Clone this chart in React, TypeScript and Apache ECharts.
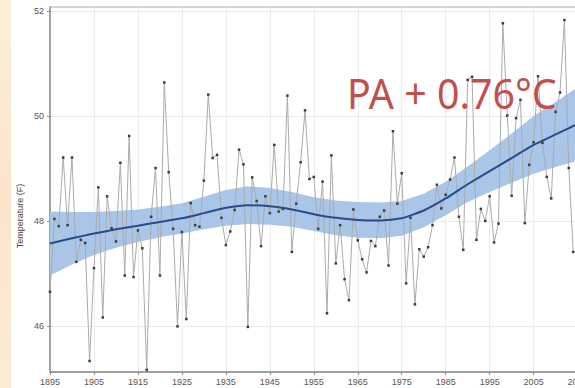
import { useEffect, useRef } from "react";
import * as echarts from "echarts";

const startYear = 1895;
const temps = [
  46.65, 48.04, 47.9, 49.21, 47.92, 49.21, 47.22, 47.64, 47.58, 45.33,
  47.1, 48.64, 46.16, 48.47, 47.86, 47.61, 49.11, 46.96, 49.62, 46.93,
  47.82, 47.48, 45.16, 48.08, 49.01, 46.96, 50.64, 48.93, 47.85, 45.99,
  47.79, 46.13, 48.34, 47.92, 47.89, 48.77, 50.41, 49.2, 49.26, 48.06,
  47.54, 47.8, 48.21, 49.36, 49.08, 45.98, 48.83, 48.38, 47.52, 48.47,
  48.15, 49.45, 48.18, 48.23, 50.39, 47.41, 48.33, 49.12, 50.11, 48.8,
  48.84, 47.85, 48.75, 46.24, 49.25, 47.19, 47.92, 46.89, 46.49, 48.22,
  47.63, 47.27, 47.02, 47.62, 47.52, 48.08, 48.2, 47.15, 49.71, 48.33,
  48.91, 46.81, 48.06, 46.41, 47.46, 47.32, 47.5, 47.92, 48.69, 48.24,
  48.5, 48.79, 49.21, 48.08, 47.45, 50.69, 50.75, 47.64, 48.23, 48.0,
  48.47, 47.59, 47.95, 51.77, 50.01, 48.48, 49.96, 50.31, 47.96, 49.07,
  49.5, 50.76, 49.49, 48.84, 48.43, 50.08, 50.45, 51.83, 49.01, 47.41,
];
const trendYears = [
  1895, 1900, 1905, 1910, 1915, 1920, 1925, 1930, 1935, 1940, 1945, 1950, 1955,
  1960, 1965, 1970, 1975, 1980, 1985, 1990, 1995, 2000, 2005, 2010, 2015,
];
const trendValues = [
  47.57, 47.67, 47.76, 47.84, 47.91, 47.98, 48.05, 48.15, 48.25, 48.3, 48.28,
  48.22, 48.13, 48.06, 48.02, 48.01, 48.05, 48.2, 48.43, 48.7, 48.95, 49.2,
  49.45, 49.65, 49.85,
];
const bandHalfWidth = [
  0.61, 0.5, 0.41, 0.35, 0.31, 0.29, 0.29, 0.31, 0.34, 0.36, 0.35, 0.33, 0.32,
  0.33, 0.34, 0.34, 0.33, 0.32, 0.32, 0.34, 0.4, 0.47, 0.55, 0.62, 0.7,
];
const yTickValues = [46, 48, 50, 52];
const annotation = "PA + 0.76°C";
const yTitle = "Temperature (F)";

export default function App() {
  const ref = useRef<HTMLDivElement>(null);
  useEffect(() => {
    if (!ref.current) return;
    const chart = echarts.init(ref.current, null, { renderer: "svg" });
    const obs = temps.map((v, i) => [startYear + i, v]);
    const band = trendYears.map((y, i) => [
      y,
      +(trendValues[i] - bandHalfWidth[i]).toFixed(3),
      +(trendValues[i] + bandHalfWidth[i]).toFixed(3),
    ]);
    const trend = trendYears.map((y, i) => [y, trendValues[i]]);
    const axisColor = "#8f8f8f";
    const labelStyle = { color: "#555", fontSize: 9, fontFamily: "Liberation Sans, Arial, sans-serif" };
    chart.setOption({
      animation: false,
      grid: {
        left: 50, top: 7, width: 527.6, height: 365,
        show: true, borderColor: "#a8a8a8", borderWidth: 1, backgroundColor: "transparent",
      },
      xAxis: {
        type: "value", min: 1895, max: 2015, interval: 10,
        axisLine: { show: true, lineStyle: { color: axisColor, width: 1.5 } },
        axisTick: { show: true, length: 3, lineStyle: { color: axisColor } },
        axisLabel: { ...labelStyle, margin: 5, formatter: (v: number) => String(v) },
        splitLine: { show: true, lineStyle: { color: "#ececec", width: 1 } },
      },
      yAxis: {
        type: "value", min: 45.12, max: 52.08, splitNumber: 4,
        axisLine: { show: true, lineStyle: { color: axisColor, width: 1.5 } },
        axisTick: { show: true, length: 3, customValues: yTickValues, lineStyle: { color: axisColor } },
        axisLabel: { ...labelStyle, margin: 6, customValues: yTickValues },
        splitLine: { show: true, lineStyle: { color: "#ececec", width: 1 } },
      },
      series: [
        {
          type: "custom",
          data: band,
          encode: { x: 0, y: [1, 2] },
          silent: true,
          z: 1,
          renderItem: (params: any, api: any) => {
            if (params.dataIndex !== 0) return null;
            const upper = band.map((d) => api.coord([d[0], d[2]]));
            const lowerPts = band.map((d) => api.coord([d[0], d[1]])).reverse();
            return {
              type: "polygon",
              shape: { points: upper.concat(lowerPts) },
              style: { fill: "#a9c5e8", stroke: "none" },
            };
          },
        },
        {
          type: "line", data: obs, symbol: "rect", symbolSize: 2.5, z: 3,
          lineStyle: { color: "#ababab", width: 1 },
          itemStyle: { color: "#3c3c3c" },
        },
        {
          type: "line", data: trend, symbol: "none", smooth: 0.15, z: 4,
          lineStyle: { color: "#274b8b", width: 2 },
        },
      ],
      graphic: [
        {
          type: "text", x: 347, y: 73, scaleX: 0.96, z: 10,
          style: { text: annotation, font: '41px "Noto Sans"', fill: "#C0504D", align: "left", verticalAlign: "top" },
        },
        {
          type: "text", x: 20, y: 216, rotation: Math.PI / 2,
          style: { text: yTitle, font: '9px "Liberation Sans"', fill: "#444", align: "center", verticalAlign: "middle" },
        },
      ],
    });
    return () => chart.dispose();
  }, []);
  return (
    <div style={{ position: "fixed", left: 0, top: 0, width: 575, height: 388, overflow: "hidden", background: "#fff" }}>
      <div style={{ position: "absolute", left: 0, top: 0, width: 11, height: 388, background: "linear-gradient(180deg, #fcefda 0%, #fae5c9 50%, #fcecd5 100%)" }} />
      <div ref={ref} style={{ position: "absolute", left: 0, top: 0, width: 600, height: 388 }} />
    </div>
  );
}
